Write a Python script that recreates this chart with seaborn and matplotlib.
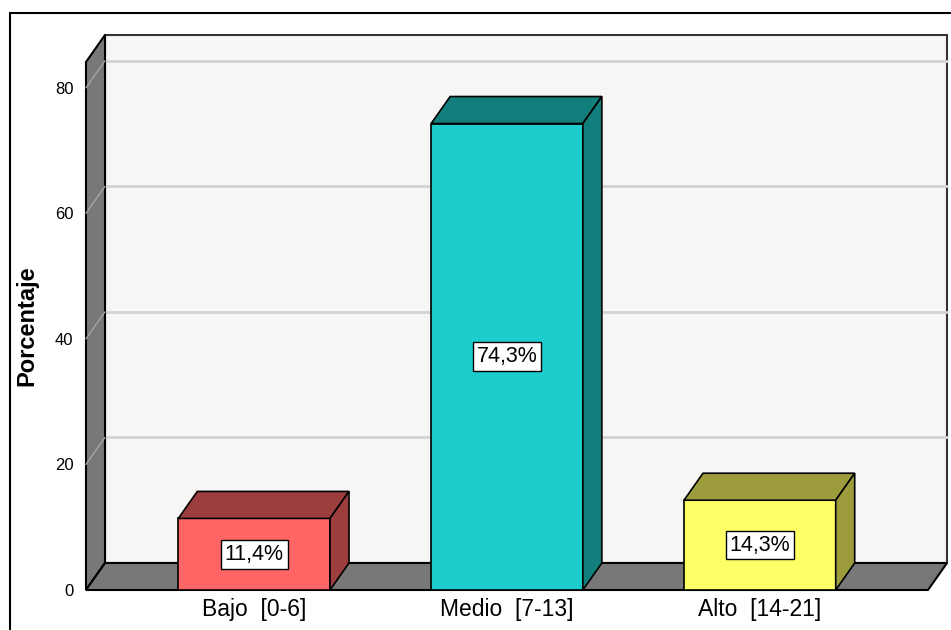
import numpy as np
import pandas as pd
import matplotlib
matplotlib.use("Agg")
import matplotlib.pyplot as plt
import seaborn as sns
from matplotlib.patches import Polygon
from matplotlib.lines import Line2D

# datos
categorias = ["Bajo  [0-6]", "Medio  [7-13]", "Alto  [14-21]"]
porcentajes = [11.4, 74.3, 14.3]
etiquetas = ["11,4%", "74,3%", "14,3%"]
color_frente = ["#FF6565", "#1DCDCD", "#FFFF66"]
color_lado = ["#9C3E3E", "#137F7C", "#9D9C3D"]
ticks_y = [0, 20, 40, 60, 80]

sns.set_theme(style="white")
plt.rcParams["font.family"] = ["Liberation Sans", "DejaVu Sans"]
plt.rcParams["text.color"] = "black"
plt.rcParams["xtick.color"] = "black"
plt.rcParams["ytick.color"] = "black"
plt.rcParams["axes.labelcolor"] = "black"

W, H = 951, 630
fig = plt.figure(figsize=(W / 100, H / 100), dpi=100)
ax = fig.add_axes([86 / W, 40 / H, 842 / W, 528 / H])
ax.set_facecolor("none")

df = pd.DataFrame({"cat": categorias, "pct": porcentajes})
sns.barplot(data=df, x="cat", y="pct", hue="cat", palette=color_frente,
            width=0.6, legend=False, saturation=1, edgecolor="black",
            linewidth=1.2, ax=ax, zorder=5)
barras = [b for c in ax.containers for b in c if b.get_height() > 0]

xmin, xmax = -0.665, 2.665
ymax = 84.1
ax.set_xlim(xmin, xmax)
ax.set_ylim(0, ymax)

# desplazamiento de profundidad (19 px a la derecha, 27 px arriba)
p0 = ax.transData.transform((0, 0))
ddx, ddy = ax.transData.inverted().transform(p0 + np.array([19, 27]))

gris = "#787878"
# pared del fondo
ax.add_patch(Polygon([(xmin + ddx, ddy), (xmax + ddx, ddy), (xmax + ddx, ymax + ddy),
                      (xmin + ddx, ymax + ddy)], closed=True, facecolor="#F7F6F5",
                     edgecolor="#333333", lw=1.5, zorder=1, clip_on=False))
# pared izquierda
ax.add_patch(Polygon([(xmin, 0), (xmin, ymax), (xmin + ddx, ymax + ddy), (xmin + ddx, ddy)],
                     closed=True, facecolor=gris, edgecolor="black", lw=1.5,
                     zorder=2, clip_on=False))
# rejilla
for v in ticks_y[1:]:
    ax.plot([xmin + ddx, xmax + ddx], [v + ddy, v + ddy], color="#D3D3D3", lw=2,
            zorder=1.5, clip_on=False)
    ax.plot([xmin, xmin + ddx], [v, v + ddy], color="#A5A5A5", lw=1,
            zorder=2.5, clip_on=False)
# suelo
ax.add_patch(Polygon([(xmin, 0), (xmax, 0), (xmax + ddx, ddy), (xmin + ddx, ddy)],
                     closed=True, facecolor=gris, edgecolor="black", lw=1.5,
                     zorder=3, clip_on=False))

# caras superior y lateral de cada barra
for p in barras:
    x, w, h = p.get_x(), p.get_width(), p.get_height()
    i = int(round(x + w / 2))
    top = [(x, h), (x + w, h), (x + w + ddx, h + ddy), (x + ddx, h + ddy)]
    side = [(x + w, 0), (x + w + ddx, ddy), (x + w + ddx, h + ddy), (x + w, h)]
    ax.add_patch(Polygon(top, closed=True, facecolor=color_lado[i], edgecolor="black",
                         lw=1.2, zorder=5, clip_on=False))
    ax.add_patch(Polygon(side, closed=True, facecolor=color_lado[i], edgecolor="black",
                         lw=1.2, zorder=5, clip_on=False))

for i, (v, lab) in enumerate(zip(porcentajes, etiquetas)):
    ax.text(i, v / 2, lab, ha="center", va="center", fontsize=15.5, zorder=7,
            bbox=dict(boxstyle="square,pad=0.18", facecolor="white",
                      edgecolor="black", lw=1))

for s in ax.spines.values():
    s.set_visible(False)
ax.set_yticks(ticks_y)
ax.set_yticklabels([str(t) for t in ticks_y], fontsize=12)
ax.tick_params(axis="y", length=0, pad=9)
ax.tick_params(axis="x", length=0, pad=6, labelsize=16.5)
ax.set_xlabel("")
ax.set_ylabel("Porcentaje", fontsize=17, fontweight="bold")
ax.yaxis.set_label_coords(-48 / 842, 0.5)

# marco exterior
fig.add_artist(Line2D([10 / W, 10 / W], [0, 1 - 13 / H], color="black", lw=1.5))
fig.add_artist(Line2D([10 / W, 1], [1 - 13 / H, 1 - 13 / H], color="black", lw=1.5))

fig.savefig("out.png", dpi=100)
